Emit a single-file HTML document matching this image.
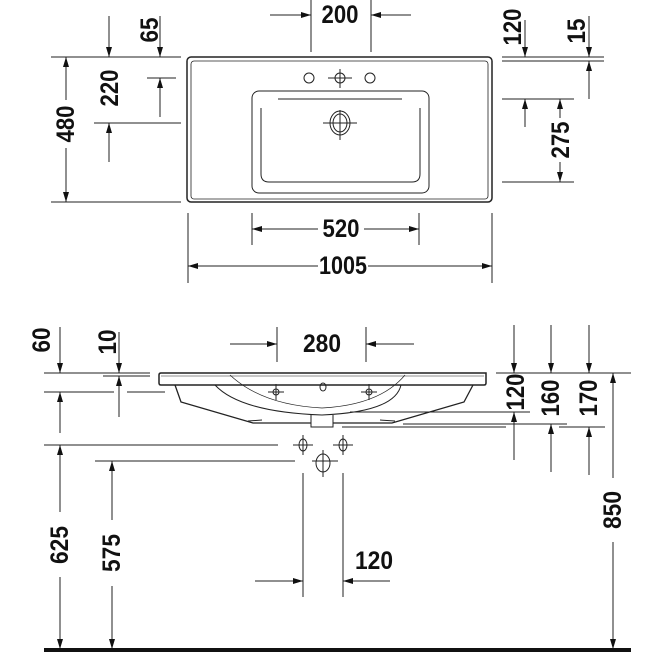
<!DOCTYPE html>
<html><head><meta charset="utf-8"><style>
html,body{margin:0;padding:0;background:#fff}
svg{display:block}
text{font-family:"Liberation Sans",sans-serif;font-weight:bold;font-size:25px;fill:#111;text-anchor:middle;dominant-baseline:central}
</style></head><body>
<svg width="656" height="656" viewBox="0 0 656 656" xmlns="http://www.w3.org/2000/svg">
<defs>
<marker id="a" viewBox="0 0 10 6" refX="10" refY="3" markerWidth="10" markerHeight="6" markerUnits="userSpaceOnUse" orient="auto"><path d="M0,0L10,3L0,6z" fill="#111"/></marker>
</defs>
<g stroke="#222" stroke-width="1" fill="none">
<rect x="187" y="57" width="305" height="145" rx="4" stroke-width="1.5"/>
<rect x="191" y="61" width="297" height="138" rx="3" stroke-width="0.8"/>
<rect x="252" y="91" width="177" height="102" rx="7"/>
<path d="M261,108 V174 Q261,182 269,182 H412 Q420,182 420,174 V108"/>
<line x1="278" y1="99" x2="402" y2="99"/>
<ellipse cx="309" cy="78" rx="5" ry="5"/>
<ellipse cx="340" cy="78" rx="5" ry="5"/>
<ellipse cx="370" cy="78" rx="5" ry="5"/>
<line x1="328" y1="78" x2="352" y2="78"/><line x1="340" y1="69" x2="340" y2="88"/>
<ellipse cx="340" cy="123" rx="10" ry="12"/>
<ellipse cx="340" cy="123" rx="7" ry="9"/>
<line x1="323" y1="123" x2="357" y2="123"/><line x1="340" y1="110" x2="340" y2="140"/>
<line x1="311" y1="0" x2="311" y2="52"/><line x1="371" y1="0" x2="371" y2="52"/>
<line x1="270" y1="15" x2="311" y2="15" marker-end="url(#a)"/>
<line x1="411" y1="15" x2="371" y2="15" marker-end="url(#a)"/>
<line x1="51" y1="57" x2="181" y2="57"/><line x1="51" y1="202" x2="181" y2="202"/>
<line x1="66" y1="100" x2="66" y2="57" marker-end="url(#a)"/>
<line x1="66" y1="148" x2="66" y2="202" marker-end="url(#a)"/>
<line x1="109" y1="16" x2="109" y2="57" marker-end="url(#a)"/>
<line x1="160" y1="16" x2="160" y2="57" marker-end="url(#a)"/>
<line x1="147" y1="78" x2="176" y2="78"/>
<line x1="160" y1="117" x2="160" y2="78" marker-end="url(#a)"/>
<line x1="94" y1="123" x2="181" y2="123"/>
<line x1="109" y1="162" x2="109" y2="123" marker-end="url(#a)"/>
<line x1="502" y1="57" x2="604" y2="57"/><line x1="502" y1="61" x2="604" y2="61"/>
<line x1="525" y1="20" x2="525" y2="57" marker-end="url(#a)"/>
<line x1="589" y1="16" x2="589" y2="57" marker-end="url(#a)"/>
<line x1="589" y1="99" x2="589" y2="61" marker-end="url(#a)"/>
<line x1="502" y1="99" x2="574" y2="99"/><line x1="502" y1="182" x2="574" y2="182"/>
<line x1="525" y1="127" x2="525" y2="99" marker-end="url(#a)"/>
<line x1="560" y1="118" x2="560" y2="99" marker-end="url(#a)"/>
<line x1="560" y1="162" x2="560" y2="182" marker-end="url(#a)"/>
<line x1="252" y1="213" x2="252" y2="245"/><line x1="419" y1="213" x2="419" y2="245"/>
<line x1="318" y1="229" x2="252" y2="229" marker-end="url(#a)"/>
<line x1="364" y1="229" x2="419" y2="229" marker-end="url(#a)"/>
<line x1="188" y1="213" x2="188" y2="283"/><line x1="492" y1="213" x2="492" y2="283"/>
<line x1="318" y1="266" x2="188" y2="266" marker-end="url(#a)"/>
<line x1="368" y1="266" x2="492" y2="266" marker-end="url(#a)"/>

<path d="M161,373 H486 V383 Q486,385 484,385 H161 Q159,385 159,383 V375 Q159,373 161,373z" stroke-width="1.5"/>
<line x1="161" y1="376" x2="484" y2="376" stroke-width="0.6"/>
<path d="M175,385 L181,402 L253,423 H311 M333,423 H392 L464,402 L473,385" stroke-width="1.3"/>
<path d="M311,415 V427 H333 V415"/>
<path d="M215,385 Q240,412 322,415 Q395,412 401,385"/>
<path d="M230,375 Q262,405 322,408 Q380,405 405,375" stroke-width="0.7"/>
<line x1="248" y1="421" x2="262" y2="420"/><line x1="380" y1="420" x2="395" y2="421"/>
<circle cx="276" cy="392" r="3"/><line x1="268" y1="392" x2="284" y2="392"/><line x1="276" y1="384" x2="276" y2="400"/>
<circle cx="369" cy="392" r="3"/><line x1="361" y1="392" x2="377" y2="392"/><line x1="369" y1="384" x2="369" y2="400"/>
<ellipse cx="323" cy="387" rx="3" ry="4"/>
<line x1="277" y1="327" x2="277" y2="362"/><line x1="366" y1="327" x2="366" y2="362"/>
<line x1="230" y1="344" x2="277" y2="344" marker-end="url(#a)"/>
<line x1="414" y1="344" x2="366" y2="344" marker-end="url(#a)"/>
<line x1="44" y1="373" x2="150" y2="373"/>
<line x1="103" y1="376" x2="150" y2="376"/>
<line x1="44" y1="392" x2="114" y2="392"/><line x1="127" y1="392" x2="165" y2="392"/>
<line x1="60" y1="327" x2="60" y2="373" marker-end="url(#a)"/>
<line x1="60" y1="433" x2="60" y2="392" marker-end="url(#a)"/>
<line x1="119" y1="332" x2="119" y2="373" marker-end="url(#a)"/>
<line x1="119" y1="417" x2="119" y2="376" marker-end="url(#a)"/>
<line x1="44" y1="445" x2="278" y2="445"/>
<line x1="95" y1="461" x2="295" y2="461"/>
<line x1="60" y1="512" x2="60" y2="445" marker-end="url(#a)"/>
<line x1="60" y1="577" x2="60" y2="649" marker-end="url(#a)"/>
<line x1="112" y1="520" x2="112" y2="461" marker-end="url(#a)"/>
<line x1="112" y1="586" x2="112" y2="649" marker-end="url(#a)"/>
<ellipse cx="303" cy="445" rx="4" ry="6"/><line x1="293" y1="445" x2="313" y2="445"/><line x1="303" y1="435" x2="303" y2="455"/>
<ellipse cx="343" cy="445" rx="4" ry="6"/><line x1="333" y1="445" x2="353" y2="445"/><line x1="343" y1="435" x2="343" y2="455"/>
<ellipse cx="323" cy="463" rx="7" ry="9"/><line x1="312" y1="461" x2="338" y2="461"/><line x1="323" y1="450" x2="323" y2="477"/>
<line x1="303" y1="473" x2="303" y2="597"/><line x1="343" y1="473" x2="343" y2="597"/>
<line x1="255" y1="581" x2="303" y2="581" marker-end="url(#a)"/>
<line x1="390" y1="581" x2="343" y2="581" marker-end="url(#a)"/>
<line x1="496" y1="373" x2="631" y2="373"/>
<line x1="350" y1="412" x2="530" y2="412"/>
<line x1="403" y1="424" x2="567" y2="424"/>
<line x1="342" y1="427" x2="506" y2="427"/><line x1="559" y1="427" x2="605" y2="427"/>
<line x1="514" y1="325" x2="514" y2="373" marker-end="url(#a)"/>
<line x1="551" y1="325" x2="551" y2="373" marker-end="url(#a)"/>
<line x1="589" y1="325" x2="589" y2="373" marker-end="url(#a)"/>
<line x1="514" y1="460" x2="514" y2="412" marker-end="url(#a)"/>
<line x1="551" y1="472" x2="551" y2="424" marker-end="url(#a)"/>
<line x1="589" y1="475" x2="589" y2="427" marker-end="url(#a)"/>
<line x1="613" y1="478" x2="613" y2="373" marker-end="url(#a)"/>
<line x1="613" y1="542" x2="613" y2="649" marker-end="url(#a)"/>
</g>
<line x1="44" y1="650" x2="631" y2="650" stroke="#111" stroke-width="4"/>
<text x="340" y="15" textLength="37" lengthAdjust="spacingAndGlyphs">200</text>
<text x="150" y="30" transform="rotate(-90 150 30)" textLength="25" lengthAdjust="spacingAndGlyphs">65</text>
<text x="110" y="88" transform="rotate(-90 110 88)" textLength="37" lengthAdjust="spacingAndGlyphs">220</text>
<text x="66" y="124" transform="rotate(-90 66 124)" textLength="37" lengthAdjust="spacingAndGlyphs">480</text>
<text x="513" y="27" transform="rotate(-90 513 27)" textLength="37" lengthAdjust="spacingAndGlyphs">120</text>
<text x="577" y="31" transform="rotate(-90 577 31)" textLength="25" lengthAdjust="spacingAndGlyphs">15</text>
<text x="561" y="140" transform="rotate(-90 561 140)" textLength="37" lengthAdjust="spacingAndGlyphs">275</text>
<text x="341" y="229" textLength="37" lengthAdjust="spacingAndGlyphs">520</text>
<text x="343" y="266" textLength="48" lengthAdjust="spacingAndGlyphs">1005</text>
<text x="322" y="344" textLength="38" lengthAdjust="spacingAndGlyphs">280</text>
<text x="42" y="340" transform="rotate(-90 42 340)" textLength="25" lengthAdjust="spacingAndGlyphs">60</text>
<text x="108" y="342" transform="rotate(-90 108 342)" textLength="25" lengthAdjust="spacingAndGlyphs">10</text>
<text x="60" y="545" transform="rotate(-90 60 545)" textLength="38" lengthAdjust="spacingAndGlyphs">625</text>
<text x="112" y="553" transform="rotate(-90 112 553)" textLength="38" lengthAdjust="spacingAndGlyphs">575</text>
<text x="374" y="561" textLength="38" lengthAdjust="spacingAndGlyphs">120</text>
<text x="516" y="392" transform="rotate(-90 516 392)" textLength="37" lengthAdjust="spacingAndGlyphs">120</text>
<text x="551" y="398" transform="rotate(-90 551 398)" textLength="37" lengthAdjust="spacingAndGlyphs">160</text>
<text x="589" y="398" transform="rotate(-90 589 398)" textLength="37" lengthAdjust="spacingAndGlyphs">170</text>
<text x="613" y="510" transform="rotate(-90 613 510)" textLength="38" lengthAdjust="spacingAndGlyphs">850</text>
</svg>
</body></html>
